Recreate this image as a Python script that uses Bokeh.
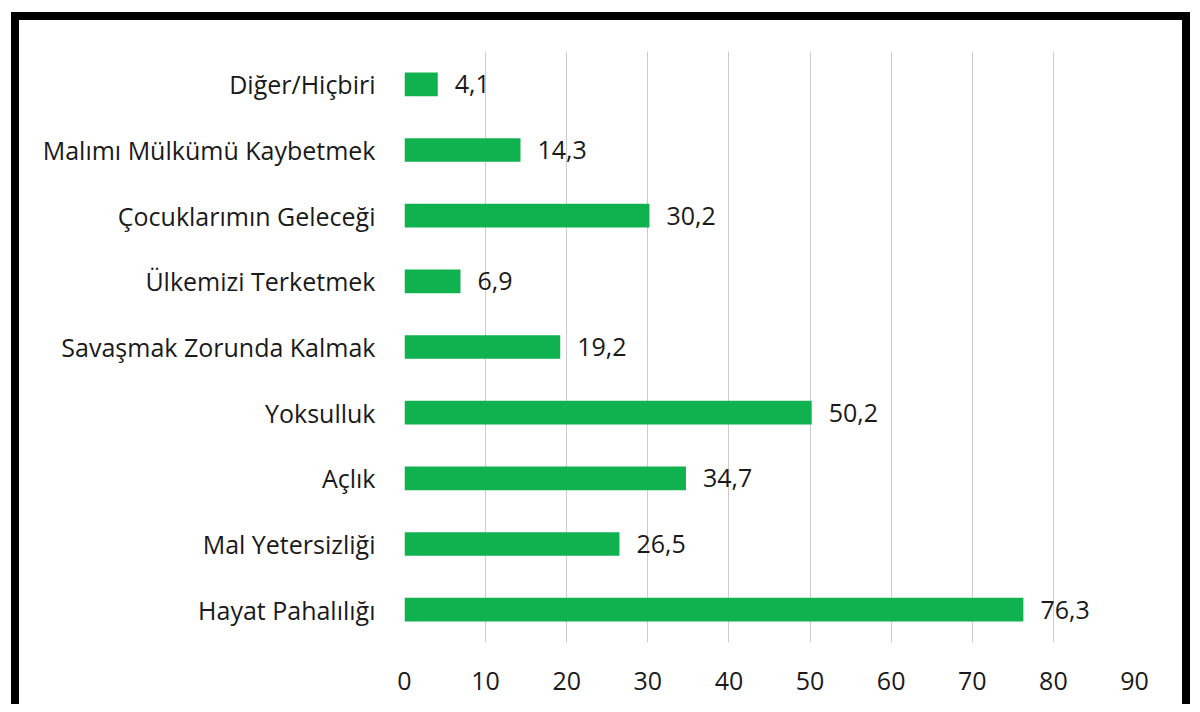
from bokeh.plotting import figure
from bokeh.models import Range1d, FactorRange, SingleIntervalTicker, ColumnDataSource
from bokeh.core.properties import value
from bokeh.embed import file_html
from bokeh.resources import INLINE

categories = ["Diğer/Hiçbiri", "Malımı Mülkümü Kaybetmek", "Çocuklarımın Geleceği",
              "Ülkemizi Terketmek", "Savaşmak Zorunda Kalmak", "Yoksulluk",
              "Açlık", "Mal Yetersizliği", "Hayat Pahalılığı"]
values = [4.1, 14.3, 30.2, 6.9, 19.2, 50.2, 34.7, 26.5, 76.3]
value_labels = ["4,1", "14,3", "30,2", "6,9", "19,2", "50,2", "34,7", "26,5", "76,3"]

FONT = "Open Sans"
GREEN = "#10b24f"
TEXT = "#1a1a1a"

src = ColumnDataSource(dict(cat=categories, val=values, lab=value_labels))

p = figure(width=1163, height=684, output_backend="svg", toolbar_location=None,
           y_range=FactorRange(factors=list(reversed(categories))),
           x_range=Range1d(0, 90),
           min_border_left=385, min_border_right=64, min_border_top=31, min_border_bottom=70)
p.styles = {"box-sizing": "content-box", "margin-left": "11px", "margin-top": "12px",
            "border-left": "8px solid #000", "border-top": "8px solid #000",
            "border-right": "8px solid #000"}

p.hbar(y="cat", right="val", left=0, height=0.36, source=src, color=GREEN, line_color=None)
p.text(x="val", y="cat", text="lab", source=src, x_offset=17, text_baseline="middle",
       text_align="left", text_font=value(FONT), text_font_size="25px", text_color=TEXT)

p.outline_line_color = None
p.ygrid.grid_line_color = None
p.xgrid.grid_line_color = "#cccccc"
p.xgrid.grid_line_width = 1
p.xaxis.ticker = SingleIntervalTicker(interval=10)

for ax in (p.xaxis[0], p.yaxis[0]):
    ax.axis_line_color = None
    ax.major_tick_line_color = None
    ax.minor_tick_line_color = None
    ax.major_tick_in = 0
    ax.major_tick_out = 0
    ax.minor_tick_out = 0
    ax.major_label_text_font = FONT
    ax.major_label_text_font_size = "25px"
    ax.major_label_text_color = TEXT

p.xaxis.major_label_standoff = 29
p.yaxis.major_label_standoff = 29

open("out.html", "w").write(file_html(p, INLINE))
